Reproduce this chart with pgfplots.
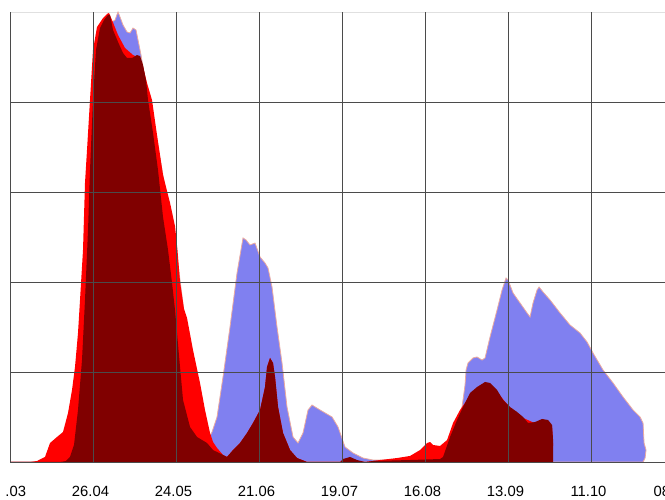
\documentclass[border=0pt]{standalone}
\usepackage{fontspec}
\setmainfont{Liberation Sans}
\usepackage{pgfplots}
\pgfplotsset{compat=1.18}
\definecolor{cblue}{RGB}{128,128,240}
\definecolor{cred}{RGB}{255,0,0}
\definecolor{cdred}{RGB}{128,0,0}
\definecolor{cedge}{RGB}{235,170,160}
\definecolor{cgrid}{RGB}{75,75,75}
\begin{document}
\begin{tikzpicture}[x=1pt,y=1pt]
\useasboundingbox (0,0) rectangle (665,500);
\clip (6.5,0) rectangle (665,500);
\draw[black!12, line width=0.8pt] (10,488) -- (665,488);
\begin{axis}[at={(10pt,38pt)}, anchor=south west, scale only axis,
  width=664pt, height=450pt, xmin=0, xmax=224, ymin=0, ymax=500,
  axis x line=bottom, axis y line=left,
  axis line style={-, cgrid, line width=0.9pt},
  axis on top,
  xtick={0,28,...,224},
  xticklabels={29.03,26.04,24.05,21.06,19.07,16.08,13.09,11.10,08.11},
  ytick={100,200,300,400}, yticklabels={},
  major tick length=0pt,
  grid=major, grid style={cgrid, line width=0.9pt},
  xticklabel style={font=\fontsize{14.8}{17}\selectfont, anchor=base, yshift=-35pt, xshift=-2.5pt, inner sep=0pt},
  clip=true]
% blue series
\addplot[fill=cblue, draw=cedge, line width=0.8pt] coordinates {
(0,0)(16.87,0)(20.92,1.1)(22.94,7.8)(24.97,46.7)(26.32,157.8)(27.33,257.8)(28.68,357.8)
(30.36,446.7)(32.39,474.4)(34.41,488.9)(35.43,491.1)(36.44,500)(37.11,494.4)(38.12,485.6)
(39.47,477.8)(40.49,476.7)(41.50,482.2)(42.51,480)(43.18,468.9)(43.86,457.8)(44.20,452.2)
(45.55,425)(48.92,370)(52.29,305)(55.67,246.7)(59.04,157.8)(62.42,91.1)(65.79,35.6)
(66.80,24.4)(68.15,33.3)(69.84,50)(71.86,94.4)(74.22,150)(76.59,210)(78.61,248.9)
(79.62,246.7)(80.97,241.1)(82.66,243.3)(84.35,227.8)(86.03,221.1)(87.04,215.6)(88.39,194.4)
(90.08,150)(91.77,110)(93.45,61.1)(95.48,27.8)(97.17,21.1)(98.85,32.2)(100.54,57.8)
(101.89,63.3)(104.59,57.8)(108.64,50)(110.66,38.9)(113.02,16.7)(115.72,10)(119.10,4.4)
(122.47,2.2)(134.95,2.2)(145.07,3.3)(150.13,11.1)(151.82,46.7)(152.83,68.9)(153.51,85.6)
(153.85,102.2)(154.52,110)(156.21,115.6)(157.56,116.7)(159.24,113.3)(160.26,115.6)
(161.94,138.9)(164.31,168.9)(165.99,191.1)(167.34,204.4)(168.02,202.2)(169.70,187.8)
(172.06,176.7)(174.43,165.6)(175.44,161.1)(176.45,176.7)(177.80,191.1)(178.48,194.4)
(179.82,188.9)(182.19,180)(185.56,165.6)(188.93,152.2)(192.31,143.3)(194.67,133.3)
(196.69,121.1)(200.07,102.2)(203.44,87.8)(206.82,72.2)(210.19,57.8)(212.55,50)
(213.56,43.3)(213.90,21.1)(214.57,13.3)(214.24,4.4)(213.56,0)
} -- cycle;
% red series
\addplot[fill=cred, draw=none] coordinates {
(0,0)(6.75,0)(9.11,1.1)(11.81,5.6)(13.50,21.1)(15.86,27.8)(17.88,33.3)(19.57,54.4)
(20.92,80)(21.93,105.6)(22.94,143.3)(23.62,180)(24.63,235.6)(25.30,310)(25.98,346.7)
(26.99,402.2)(28.00,457.8)(29.35,483.3)(31.38,493.3)(32.73,497.8)(33.40,498.9)(34.41,491.1)
(36.44,474.4)(38.80,460)(41.50,452.2)(43.86,448.9)(44.87,438.9)(46.22,421.1)(47.91,402.2)
(49.60,363.3)(51.62,318.9)(53.98,288)(55.67,262)(56.50,235.6)(57.36,200)(58.70,170)
(59.72,160)(61.74,124.4)(64.10,87.8)(65.79,57.8)(67.48,32.2)(68.49,22.2)(69.84,15.6)
(71.86,7.8)(73.21,5.6)(75.24,13.3)(77.60,21.1)(79.96,32.2)(81.98,43.3)(84.35,57.8)
(86.03,83.3)(86.71,105.6)(87.72,115.6)(88.73,110)(89.41,94.4)(90.42,61.1)(92.11,32.2)
(94.47,13.3)(96.83,4.4)(100.20,0)(119.77,0)(124.83,2.2)(130.57,4.4)(134.95,6.7)
(138.33,13.3)(140.69,21.1)(141.70,22.2)(142.71,18.9)(145.07,17.8)(147.44,24.4)(149.46,43.3)
(151.82,57.8)(153.51,65.6)(155.20,74.4)(157.56,82)(160.26,87)(164.31,78)(168.69,60)
(173.08,49)(177.13,43)(181.51,45)(182.86,40)(183.20,20)(183.0,0)
} -- cycle;
% dark red series
\addplot[fill=cdred, draw=none] coordinates {
(0,0)(16.87,0)(18.89,1.1)(20.24,5.6)(21.59,18.9)(22.94,57.8)(24.29,113.3)(25.30,180)
(26.32,257.8)(26.99,324.4)(28.00,402.2)(29.01,457.8)(30.36,482.2)(31.71,491.1)(33.06,496.7)
(33.74,496.7)(34.75,480)(36.44,466.7)(38.12,454.4)(39.47,448.9)(41.16,448.9)(42.85,452.2)
(43.86,451.1)(44.87,441.1)(45.88,424.4)(46.56,402.2)(48.25,365.6)(49.93,324.4)(51.62,272.2)
(53.31,235.6)(54.66,198.9)(55.67,168.9)(56.34,143.3)(57.36,105.6)(58.37,68.9)(60.73,38.9)
(63.09,27.8)(66.46,21.1)(68.49,13.3)(71.86,7.8)(73.21,5.6)(75.24,13.3)(77.60,21.1)
(79.96,32.2)(81.98,43.3)(84.35,57.8)(86.03,83.3)(86.71,105.6)(87.72,115.6)(88.73,110)
(89.41,94.4)(90.42,61.1)(92.11,32.2)(94.47,13.3)(96.83,4.4)(100.20,0)(111.34,0)
(112.35,3.3)(114.71,5.6)(117.07,2.2)(119.77,0)(122.47,1.1)(134.95,2.2)(145.07,3.3)
(146.09,5.6)(148.45,27.8)(150.81,46.7)(152.83,61.1)(155.20,76.7)(157.56,83.3)(160.26,88.9)
(161.94,87.8)(164.31,80)(166.33,68.9)(168.69,61.1)(171.05,55.6)(173.08,50)(174.76,43.3)
(177.13,44.4)(179.49,47.8)(181.51,46.7)(182.86,41.1)(183.20,24.4)(183.20,0)
} -- cycle;
\end{axis}
\end{tikzpicture}
\end{document}
